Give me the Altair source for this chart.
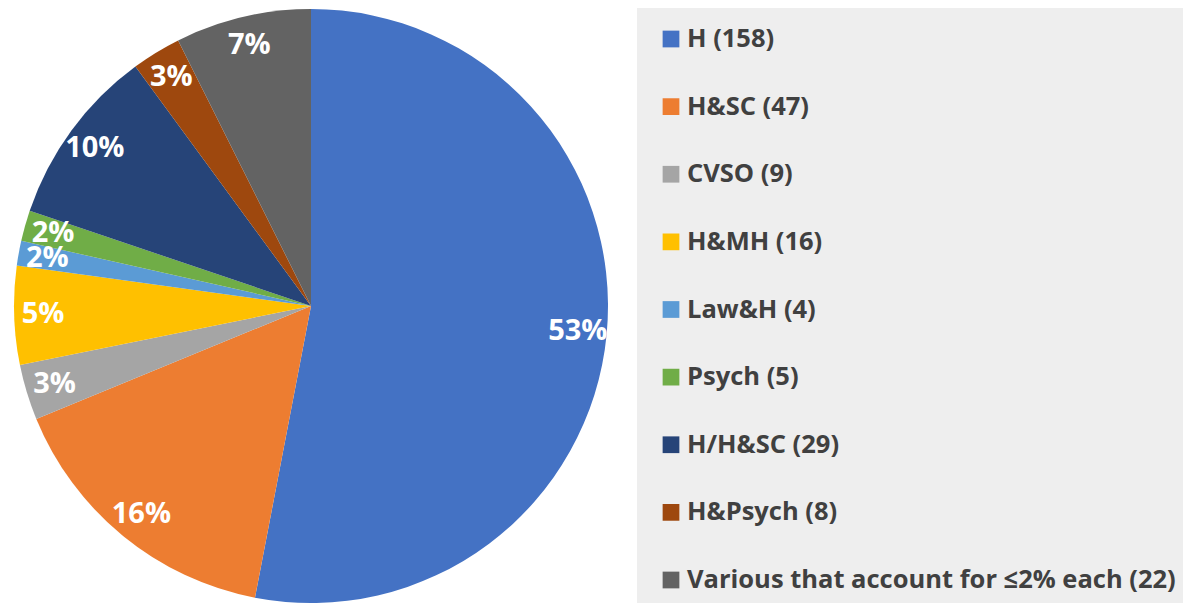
import altair as alt
import pandas as pd

categories = ["H", "H&SC", "CVSO", "H&MH", "Law&H", "Psych", "H/H&SC", "H&Psych",
              "Various that account for \u22642% each"]
counts = [158, 47, 9, 16, 4, 5, 29, 8, 22]
pct_labels = ["53%", "16%", "3%", "5%", "2%", "2%", "10%", "3%", "7%"]
colors = ["#4472C4", "#ED7D31", "#A5A5A5", "#FFC000", "#5B9BD5", "#70AD47",
          "#264478", "#9E480E", "#636363"]

df = pd.DataFrame({
    "idx": list(range(len(categories))),
    "cat": categories,
    "count": counts,
    "pct": pct_labels,
    "legend": [f"{c} ({n})" for c, n in zip(categories, counts)],
})

W, H = 1175, 595
CX, CY, R = 303, 298, 297
FONT = "Open Sans"

color_scale = alt.Scale(domain=categories, range=colors)

base = alt.Chart(df)

pie = base.mark_arc(radius=R, stroke=None).encode(
    theta=alt.Theta("count:Q", stack=True),
    color=alt.Color("cat:N", scale=color_scale, legend=None),
    order=alt.Order("idx:Q"),
    x=alt.value(CX), y=alt.value(CY),
)

labels = base.mark_text(radius=268, font=FONT, fontSize=29, fontWeight="bold",
                        color="white").encode(
    theta=alt.Theta("count:Q", stack=True),
    order=alt.Order("idx:Q"),
    text="pct:N",
    x=alt.value(CX), y=alt.value(CY),
)

bg = alt.Chart(pd.DataFrame({"a": [0]})).mark_rect(color="#EEEEEE").encode(
    x=alt.value(629), x2=alt.value(W), y=alt.value(0), y2=alt.value(H),
)

yscale = alt.Scale(domain=[0, 8], range=[31, 572])

squares = base.mark_square(size=280, opacity=1).encode(
    x=alt.value(663),
    y=alt.Y("idx:Q", scale=yscale, axis=None),
    color=alt.Color("cat:N", scale=color_scale, legend=None),
)

leg_text = base.mark_text(align="left", baseline="middle", font=FONT, fontSize=25.5,
                          fontWeight="bold", color="#404040").encode(
    x=alt.value(679),
    y=alt.Y("idx:Q", scale=yscale, axis=None),
    text="legend:N",
)

chart = alt.layer(bg, pie, labels, squares, leg_text).properties(
    width=W, height=H, padding=0,
    autosize=alt.AutoSizeParams(type="fit", contains="padding"),
).configure_view(stroke=None)

chart.save("out.html", embed_options={"renderer": "svg", "actions": False})
